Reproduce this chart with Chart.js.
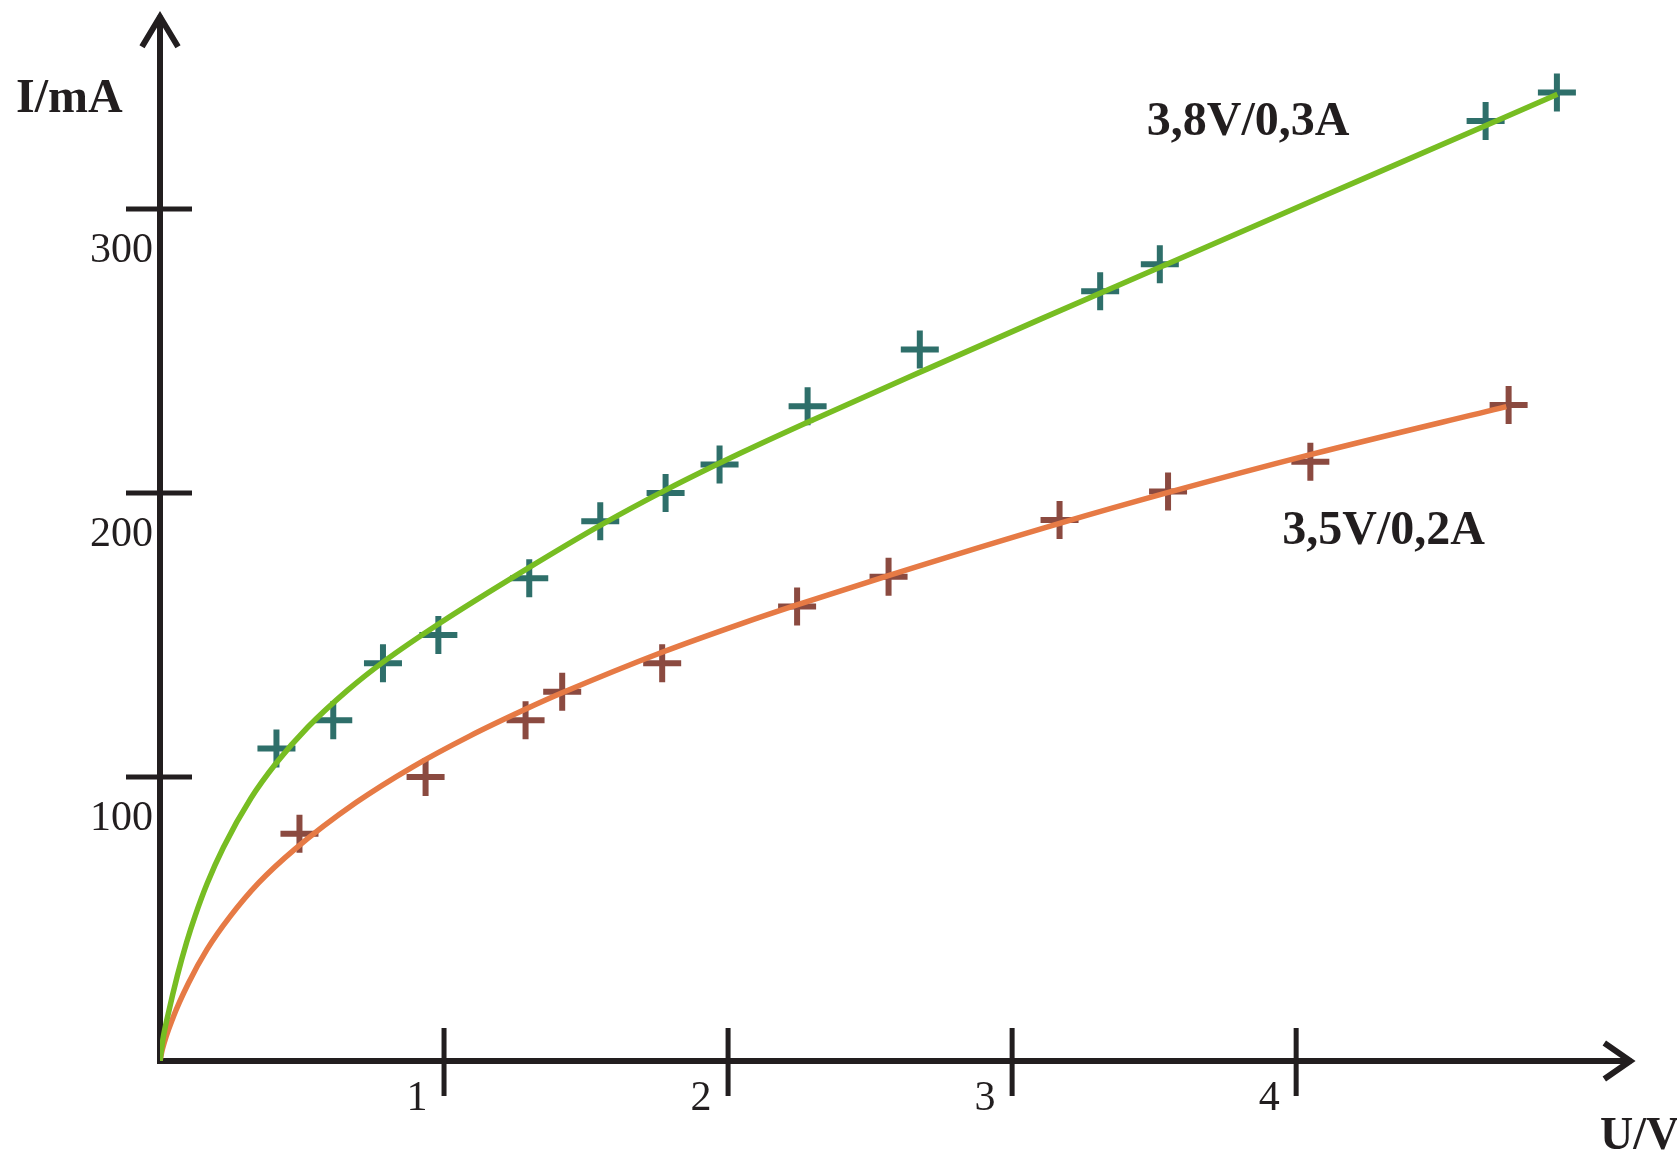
<!DOCTYPE html>
<html>
<head>
<meta charset="utf-8">
<script src="https://cdn.jsdelivr.net/npm/chart.js@4/dist/chart.umd.min.js"></script>
<style>
  body { margin: 0; background: #fff; }
  #wrap { width: 1677px; height: 1151px; position: relative; }
</style>
</head>
<body>
<div id="wrap"><canvas id="myGraph"></canvas></div>
<script>
// Tick labels
var xTicks = [1, 2, 3, 4];
var yTicks = [100, 200, 300];

// Measured points, lamp 3,8V/0,3A
var greenU = [0.41, 0.61, 0.785, 0.98, 1.30, 1.55, 1.78, 1.97, 2.28, 2.675, 3.31, 3.52, 4.667, 4.918];
var greenI = [110, 120, 140, 150, 170, 190, 200, 210, 230.5, 250.5, 271, 280.5, 331, 341];

// Measured points, lamp 3,5V/0,2A
var orangeU = [0.491, 0.935, 1.287, 1.416, 1.768, 2.243, 2.565, 3.167, 3.549, 4.05, 4.748];
var orangeI = [80, 100, 120, 130, 140, 160, 170.5, 190.5, 200.5, 211, 231];

// Fitted curves
var greenFitU = [0, 0.01, 0.029, 0.061, 0.094, 0.124, 0.166, 0.223, 0.32, 0.41, 0.52, 0.66, 0.79, 0.99, 1.29, 1.55, 1.78, 2.05, 2.3, 2.7, 3.1, 3.5, 4.1, 4.67, 4.92];
var greenFitI = [0, 7.5, 16.6, 30, 41.9, 51.2, 62.5, 75.2, 92.5, 105, 117.5, 130.5, 140.8, 154.5, 173.2, 188.6, 201, 214.3, 225.8, 243.6, 261.2, 278.6, 304.7, 329.5, 340.4];
var orangeFitU = [0, 0.008, 0.047, 0.1, 0.165, 0.247, 0.347, 0.476, 0.69, 0.89, 1.09, 1.29, 1.42, 1.77, 2.05, 2.24, 2.57, 3.17, 3.55, 4.05, 4.74];
var orangeFitI = [0, 4, 15.6, 27.4, 39.2, 50.9, 62.7, 74.7, 91, 103.6, 114.4, 124, 129.8, 144, 154.1, 160.5, 171.1, 189.4, 200.2, 213.5, 230.4];

var seriesLabels = ["3,8V/0,3A", "3,5V/0,2A"];

var axisColor = "#221e1f";
var serif = "'Liberation Serif', 'Times New Roman', serif";

function toPoints(us, is) {
  return us.map(function (u, i) { return { x: u, y: is[i] }; });
}

var axesPlugin = {
  id: "axesPlugin",
  beforeDatasetsDraw: function (chart) {
    var ctx = chart.ctx;
    var x = chart.scales.x, y = chart.scales.y;
    var x0 = x.getPixelForValue(0), y0 = y.getPixelForValue(0);
    var xTip = x.getPixelForValue(5.18), yTip = y.getPixelForValue(368);
    ctx.save();
    ctx.strokeStyle = axisColor;
    ctx.lineWidth = 6;
    ctx.lineJoin = "miter";
    ctx.beginPath();
    ctx.moveTo(x0, y0 + 3);
    ctx.lineTo(x0, yTip);
    ctx.moveTo(x0 - 3, y0);
    ctx.lineTo(xTip, y0);
    ctx.stroke();
    // arrow heads
    ctx.beginPath();
    ctx.moveTo(x0 - 18, yTip + 31);
    ctx.lineTo(x0, yTip + 1);
    ctx.lineTo(x0 + 18, yTip + 31);
    ctx.moveTo(xTip - 27, y0 - 18);
    ctx.lineTo(xTip - 1, y0);
    ctx.lineTo(xTip - 27, y0 + 18);
    ctx.stroke();
    // ticks crossing the axes
    ctx.lineWidth = 5;
    ctx.beginPath();
    xTicks.forEach(function (v) {
      var px = x.getPixelForValue(v);
      ctx.moveTo(px, y0 - 33);
      ctx.lineTo(px, y0 + 35);
    });
    yTicks.forEach(function (v) {
      var py = y.getPixelForValue(v);
      ctx.moveTo(x0 - 34, py);
      ctx.lineTo(x0 + 32, py);
    });
    ctx.stroke();
    ctx.restore();
  },
  afterDraw: function (chart) {
    var ctx = chart.ctx;
    var x = chart.scales.x, y = chart.scales.y;
    ctx.save();
    ctx.fillStyle = axisColor;
    ctx.font = "bold 48px " + serif;
    ctx.textBaseline = "alphabetic";
    ctx.textAlign = "left";
    ctx.fillText(seriesLabels[0], x.getPixelForValue(3.474), y.getPixelForValue(326));
    ctx.fillText(seriesLabels[1], x.getPixelForValue(3.951), y.getPixelForValue(182));
    ctx.fillText("I/mA", 16, 112);
    ctx.font = "bold 46px " + serif;
    ctx.fillText("U/V", 1600, 1149);
    ctx.restore();
  }
};

function noPad(s) {
  s.paddingTop = 0;
  s.paddingBottom = 0;
  s.paddingLeft = 0;
  s.paddingRight = 0;
}

var graph = document.getElementById("myGraph").getContext("2d");

var ivChart = new Chart(graph, {
  type: "scatter",
  data: {
    datasets: [
      {
        type: "line",
        data: toPoints(greenFitU, greenFitI),
        borderColor: "#77bd22",
        borderWidth: 5.5,
        pointRadius: 0,
        cubicInterpolationMode: "monotone",
        fill: false
      },
      {
        type: "line",
        data: toPoints(orangeFitU, orangeFitI),
        borderColor: "#e67a45",
        borderWidth: 5.5,
        pointRadius: 0,
        cubicInterpolationMode: "monotone",
        fill: false
      },
      {
        data: toPoints(greenU, greenI),
        pointStyle: "cross",
        pointRadius: 19,
        pointBorderWidth: 6,
        borderColor: "#2e6f6a",
        backgroundColor: "#2e6f6a"
      },
      {
        data: toPoints(orangeU, orangeI),
        pointStyle: "cross",
        pointRadius: 19,
        pointBorderWidth: 6,
        borderColor: "#8b4a40",
        backgroundColor: "#8b4a40"
      }
    ]
  },
  options: {
    responsive: true,
    maintainAspectRatio: false,
    animation: false,
    layout: { padding: { top: 30, right: 40, left: 0, bottom: 0 } },
    plugins: {
      legend: { display: false },
      tooltip: { enabled: false }
    },
    scales: {
      x: {
        type: "linear",
        min: 0,
        max: 5.2,
        grid: { display: false },
        border: { display: false },
        afterBuildTicks: function (s) { s.ticks = xTicks.map(function (v) { return { value: v }; }); },
        afterFit: function (s) { s.height = 90; noPad(s); },
        ticks: {
          color: axisColor,
          font: { family: serif, size: 42 },
          padding: 5,
          labelOffset: -27,
          maxRotation: 0
        }
      },
      y: {
        type: "linear",
        min: 0,
        max: 363,
        grid: { display: false },
        border: { display: false },
        afterBuildTicks: function (s) { s.ticks = yTicks.map(function (v) { return { value: v }; }); },
        afterFit: function (s) { s.width = 160; noPad(s); },
        ticks: {
          color: axisColor,
          font: { family: serif, size: 42 },
          padding: -1,
          labelOffset: 42
        }
      }
    }
  },
  plugins: [axesPlugin]
});
</script>
</body>
</html>
